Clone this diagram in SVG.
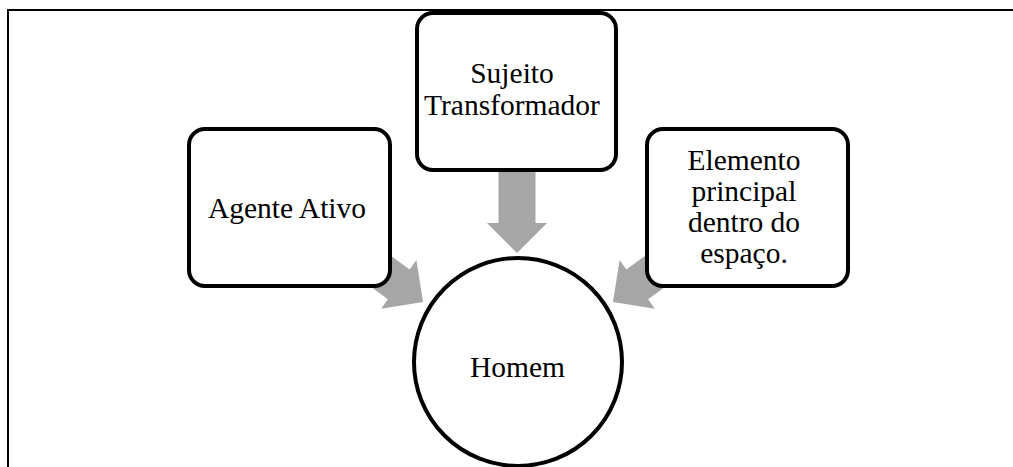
<svg xmlns="http://www.w3.org/2000/svg" xmlns:xlink="http://www.w3.org/1999/xlink" width="1013" height="467" viewBox="0 0 1013 467">
  <style>
    .frame { fill: none; stroke: #000; stroke-width: 2; }
    .node { fill: #fff; stroke: #000; stroke-width: 4; }
    .label { font-size: 29.5px; fill: #000; text-anchor: middle; }
    .arrow { fill: #a6a6a6; stroke: none; }
  </style>
  <defs>
    <!-- block arrow pointing along +x, origin at shaft start -->
    <polygon id="blockArrow" points="0,-18.5 51,-18.5 51,-30 81,0 51,30 51,18.5 0,18.5"/>
  </defs>
  <rect width="1013" height="467" fill="#fff"/>
  <!-- page frame -->
  <path class="frame" d="M8,467 V10 H1013"/>

  <g id="connectors">
    <use xlink:href="#blockArrow" class="arrow" transform="translate(517,172) rotate(90)"/>
    <use xlink:href="#blockArrow" class="arrow" transform="translate(357.5,254.4) rotate(36)"/>
    <use xlink:href="#blockArrow" class="arrow" transform="translate(678.5,254.4) rotate(144)"/>
  </g>

  <g font-family="Liberation Serif, Tinos, DejaVu Serif, serif">
    <g id="sujeito">
      <rect class="node" x="417" y="13" width="199" height="157" rx="16"/>
      <text class="label" x="512" y="83">Sujeito</text>
      <text class="label" x="512" y="115">Transformador</text>
    </g>

    <g id="agente">
      <rect class="node" x="189" y="129" width="201" height="157" rx="16"/>
      <text class="label" x="287" y="218">Agente Ativo</text>
    </g>

    <g id="elemento">
      <rect class="node" x="647" y="129" width="201" height="157" rx="16"/>
      <text class="label" x="744" y="170">Elemento</text>
      <text class="label" x="744" y="201">principal</text>
      <text class="label" x="744" y="232">dentro do</text>
      <text class="label" x="744" y="263">espaço.</text>
    </g>

    <g id="homem">
      <circle class="node" cx="518" cy="362" r="104"/>
      <text class="label" x="517.5" y="377">Homem</text>
    </g>
  </g>
</svg>
